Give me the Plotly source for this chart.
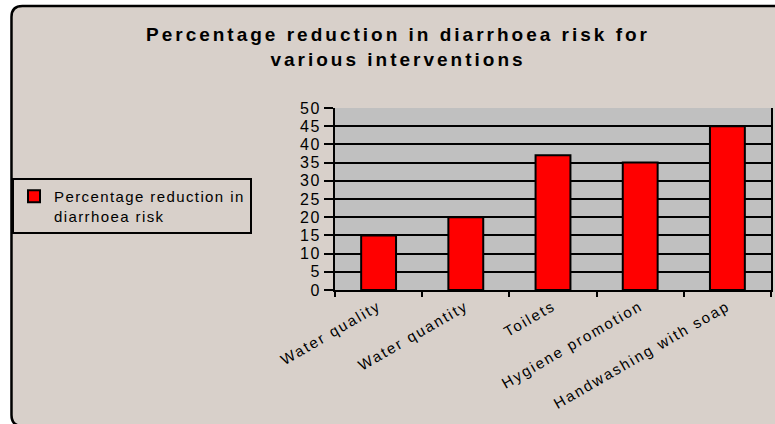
import plotly.graph_objects as go

categories = ["Water quality", "Water quantity", "Toilets", "Hygiene promotion", "Handwashing with soap"]
values = [15, 20, 37, 35, 45]
series_lines = ["Percentage reduction in", "diarrhoea risk"]
y_tick_vals = [0, 5, 10, 15, 20, 25, 30, 35, 40, 45, 50]
y_tick_labels = ["0", "5", "10", "15", "20", "25", "30", "35", "40", "45", "50"]
title_lines = ["Percentage reduction in diarrhoea risk for", "various interventions"]

W, H = 775, 424
L, R, T, B = 335, 2, 108, 134
PW, PH = W - L - R, H - T - B


def px(x):
    return (x - L) / PW


def py(y):
    return (H - B - y) / PH


def sp(s, ls):
    return '<span style="letter-spacing:%spx">%s</span>' % (ls, s)


fig = go.Figure()
fig.add_trace(go.Bar(
    x=categories, y=values,
    name="<br>".join(sp(s, 1.4) for s in series_lines),
    marker=dict(color="#FF0000", line=dict(color="black", width=2)),
    showlegend=True,
))

# outer frame (white outside, rounded border)
x0, y0, x1, y1, r = 10, 6, 795, 426, 11
inner = (
    f"M {px(x0)},{py(y0 + r)} Q {px(x0)},{py(y0)} {px(x0 + r)},{py(y0)} "
    f"L {px(x1 - r)},{py(y0)} Q {px(x1)},{py(y0)} {px(x1)},{py(y0 + r)} "
    f"L {px(x1)},{py(y1 - r)} Q {px(x1)},{py(y1)} {px(x1 - r)},{py(y1)} "
    f"L {px(x0 + r)},{py(y1)} Q {px(x0)},{py(y1)} {px(x0)},{py(y1 - r)} Z"
)
outer = (
    f"M {px(-10)},{py(-10)} L {px(W + 30)},{py(-10)} L {px(W + 30)},{py(H + 30)} "
    f"L {px(-10)},{py(H + 30)} Z "
)
fig.add_shape(type="path", xref="paper", yref="paper", path=outer + inner,
              fillcolor="white", fillrule="evenodd", line=dict(width=0), layer="above")
fig.add_shape(type="path", xref="paper", yref="paper", path=inner,
              fillcolor="rgba(0,0,0,0)", line=dict(color="black", width=2.5), layer="above")

font_family = "Liberation Sans, Arial, sans-serif"

fig.update_layout(
    width=W, height=H,
    margin=dict(l=L, r=R, t=T, b=B),
    paper_bgcolor="#D8D0CA",
    plot_bgcolor="#C0C0C0",
    bargap=0.6,
    font=dict(family=font_family, color="black"),
    title=dict(
        text="<b>" + "<br>".join(sp(t, 3) for t in title_lines) + "</b>",
        x=398 / W, xanchor="center", xref="container",
        y=1 - 41 / H, yanchor="top", yref="container",
        font=dict(size=19, family=font_family, color="black"),
    ),
    legend=dict(
        xref="container", yref="container",
        x=12 / W, xanchor="left", y=1 - 178 / H, yanchor="top",
        bordercolor="black", borderwidth=2, bgcolor="rgba(0,0,0,0)",
        font=dict(size=15, family=font_family, color="black"),
        valign="top",
    ),
    xaxis=dict(
        type="category",
        tickmode="array", tickvals=categories,
        ticktext=[sp(c, 2) for c in categories],
        tickson="boundaries", ticks="outside", ticklen=5, tickwidth=2, tickcolor="black",
        showline=True, linecolor="black", linewidth=2,
        tickangle=-30, tickfont=dict(size=15, family=font_family, color="black"),
        showgrid=False,
    ),
    yaxis=dict(
        range=[0, 50], tickmode="array", tickvals=y_tick_vals,
        ticktext=[sp(t, 1.5) for t in y_tick_labels],
        ticks="outside", ticklen=9, tickwidth=2, tickcolor="black",
        showline=True, linecolor="black", linewidth=2, mirror=True,
        showgrid=True, gridcolor="black", gridwidth=2,
        zeroline=False,
        tickfont=dict(size=16, family=font_family, color="black"),
    ),
)

fig.write_html("out.html", config={"displayModeBar": False},
               post_script="document.body.style.margin='0';")
